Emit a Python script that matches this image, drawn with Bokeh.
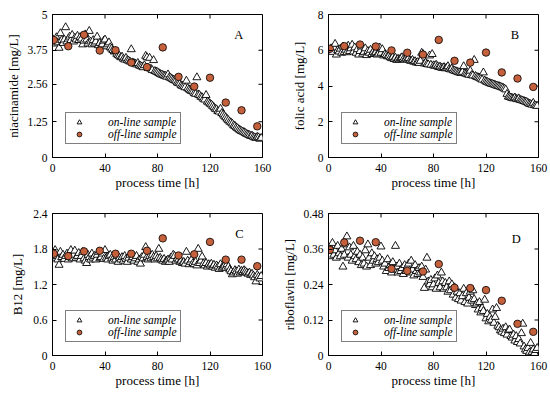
import math
from bokeh.plotting import figure
from bokeh.layouts import gridplot
from bokeh.models import FixedTicker, Label
from bokeh.embed import file_html
from bokeh.resources import INLINE

# ---------------- data ----------------
t_online = list(range(0, 160))
t_offline = [1, 12, 24, 36, 48, 60, 72, 84, 96, 108, 120, 132, 144, 156]

niacin_online = [
    4.15, 4.05, 3.98, 4.20, 4.02, 3.83, 4.34, 4.10, 4.00, 4.12,
    4.55, 4.05, 4.15, 4.22, 4.10, 4.28, 4.05, 4.18, 4.12, 4.25,
    4.10, 4.20, 4.15, 3.95, 4.08, 4.30, 4.12, 3.98, 4.42, 4.05,
    3.95, 4.10, 3.98, 4.05, 4.22, 3.92, 4.00, 3.90, 3.95, 4.08,
    4.12, 3.88, 3.95, 4.02, 3.85, 3.80, 3.75, 3.70, 3.72, 3.62,
    3.58, 3.55, 3.50, 3.52, 3.45, 3.42, 3.48, 3.40, 3.38, 3.35,
    3.78, 3.32, 3.30, 3.28, 3.25, 3.30, 3.22, 3.20, 3.18, 3.15,
    3.22, 3.55, 3.50, 3.12, 3.48, 3.10, 3.05, 3.40, 3.02, 3.00,
    2.98, 2.95, 2.92, 2.90, 2.88, 2.86, 2.85, 2.82, 2.90, 2.80,
    2.78, 2.75, 2.72, 2.70, 2.68, 2.62, 2.60, 2.58, 2.52, 2.50,
    2.48, 2.45, 2.68, 2.42, 2.38, 2.35, 2.32, 2.30, 2.25, 2.22,
    2.80, 2.20, 2.18, 2.12, 2.10, 2.05, 2.02, 2.18, 1.95, 1.92,
    1.88, 1.85, 1.80, 1.75, 1.70, 1.68, 1.62, 1.60, 1.70, 1.55,
    1.50, 1.45, 1.40, 1.35, 1.30, 1.25, 1.22, 1.18, 1.12, 1.10,
    1.05, 1.02, 0.98, 0.95, 0.92, 0.90, 0.88, 0.85, 0.82, 0.80,
    0.78, 0.75, 0.76, 0.72, 0.70, 0.68, 0.72, 0.70, 0.65, 0.68,
]
niacin_offline = [4.11, 3.89, 4.29, 3.74, 3.75, 3.32, 3.16, 3.85, 2.82, 2.48, 2.79, 1.92, 1.65, 1.09]

folic_online = [
    6.05, 5.95, 6.10, 5.90, 6.15, 6.35, 5.75, 6.00, 5.92, 6.08,
    5.85, 6.20, 5.90, 6.02, 5.88, 6.25, 5.95, 6.10, 6.30, 5.92,
    6.15, 5.85, 6.05, 5.75, 5.95, 6.20, 5.80, 5.90, 6.10, 5.72,
    5.95, 5.85, 6.02, 5.78, 5.90, 5.82, 5.88, 5.75, 5.80, 6.15,
    5.85, 6.05, 5.70, 5.78, 5.72, 5.65, 5.68, 5.60, 5.55, 5.62,
    5.50, 5.58, 5.45, 5.52, 5.48, 5.55, 5.60, 5.50, 5.46, 5.52,
    5.48, 5.55, 5.42, 5.40, 5.45, 5.35, 5.38, 5.30, 5.33, 5.28,
    5.40, 5.85, 5.78, 5.25, 5.30, 5.22, 5.20, 5.70, 5.18, 5.78,
    5.15, 5.12, 5.18, 5.10, 5.05, 5.08, 5.02, 5.00, 5.05, 4.98,
    5.02, 5.10, 4.95, 4.92, 4.98, 4.88, 4.85, 4.82, 4.80, 4.76,
    4.75, 4.72, 4.78, 5.10, 4.70, 4.68, 4.65, 4.62, 4.85, 4.60,
    4.58, 5.45, 4.55, 4.50, 4.48, 4.45, 4.40, 4.35, 4.75, 4.30,
    4.25, 4.22, 4.18, 4.15, 4.12, 4.10, 4.08, 4.05, 4.02, 4.00,
    3.98, 3.95, 3.92, 3.90, 3.85, 3.80, 3.55, 3.40, 3.38, 3.35,
    3.32, 3.30, 3.35, 3.28, 3.25, 3.30, 3.22, 3.20, 3.18, 3.15,
    3.12, 3.10, 3.05, 3.00, 2.98, 2.95, 3.05, 2.92, 2.90, 2.88,
]
folic_offline = [6.08, 6.23, 6.32, 6.21, 5.99, 5.86, 5.76, 6.58, 5.41, 5.31, 5.87, 4.76, 4.42, 3.95]

b12_online = [
    1.72, 1.65, 1.78, 1.68, 1.62, 1.53, 1.75, 1.66, 1.70, 1.63,
    1.68, 1.72, 1.62, 1.66, 1.78, 1.64, 1.70, 1.77, 1.65, 1.68,
    1.73, 1.62, 1.68, 1.75, 1.64, 1.60, 1.56, 1.70, 1.66, 1.62,
    1.72, 1.65, 1.68, 1.62, 1.70, 1.75, 1.64, 1.66, 1.72, 1.63,
    1.78, 1.65, 1.62, 1.68, 1.70, 1.64, 1.60, 1.66, 1.62, 1.68,
    1.58, 1.65, 1.62, 1.66, 1.60, 1.68, 1.63, 1.58, 1.65, 1.70,
    1.62, 1.66, 1.60, 1.64, 1.68, 1.58, 1.62, 1.55, 1.66, 1.64,
    1.70, 1.83, 1.66, 1.62, 1.68, 1.64, 1.70, 1.66, 1.62, 1.68,
    1.64, 1.80, 1.65, 1.62, 1.60, 1.63, 1.58, 1.60, 1.62, 1.58,
    1.65, 1.62, 1.70, 1.68, 1.60, 1.64, 1.62, 1.58, 1.60, 1.56,
    1.58, 1.55, 1.75, 1.60, 1.54, 1.58, 1.62, 1.56, 1.54, 1.58,
    1.52, 1.80, 1.56, 1.60, 1.67, 1.55, 1.52, 1.56, 1.50, 1.54,
    1.52, 1.55, 1.50, 1.53, 1.48, 1.52, 1.50, 1.46, 1.54, 1.48,
    1.50, 1.52, 1.48, 1.54, 1.50, 1.45, 1.42, 1.37, 1.40, 1.44,
    1.42, 1.38, 1.45, 1.40, 1.43, 1.41, 1.44, 1.42, 1.40, 1.38,
    1.40, 1.36, 1.38, 1.35, 1.32, 1.25, 1.36, 1.33, 1.30, 1.34,
]
b12_offline = [1.72, 1.68, 1.76, 1.77, 1.72, 1.72, 1.77, 1.98, 1.69, 1.71, 1.92, 1.62, 1.62, 1.51]

ribo_online = [
    0.345, 0.335, 0.360, 0.380, 0.340, 0.355, 0.330, 0.370, 0.345, 0.335,
    0.360, 0.300, 0.340, 0.375, 0.402, 0.330, 0.365, 0.340, 0.320, 0.370,
    0.335, 0.325, 0.350, 0.315, 0.340, 0.305, 0.330, 0.310, 0.355, 0.300,
    0.375, 0.330, 0.305, 0.345, 0.320, 0.335, 0.310, 0.325, 0.315, 0.330,
    0.368, 0.320, 0.300, 0.310, 0.285, 0.325, 0.295, 0.305, 0.280, 0.315,
    0.290, 0.370, 0.300, 0.280, 0.310, 0.285, 0.295, 0.275, 0.305, 0.285,
    0.300, 0.310, 0.280, 0.320, 0.290, 0.270, 0.305, 0.285, 0.275, 0.295,
    0.280, 0.300, 0.265, 0.228, 0.290, 0.330, 0.250, 0.240, 0.255, 0.230,
    0.240, 0.260, 0.225, 0.270, 0.245, 0.230, 0.280, 0.250, 0.225, 0.245,
    0.230, 0.215, 0.250, 0.220, 0.240, 0.205, 0.230, 0.195, 0.215, 0.190,
    0.210, 0.185, 0.200, 0.225, 0.180, 0.210, 0.175, 0.195, 0.215, 0.185,
    0.220, 0.190, 0.170, 0.175, 0.155, 0.180, 0.145, 0.160, 0.150, 0.188,
    0.125, 0.140, 0.115, 0.130, 0.120, 0.155, 0.110, 0.130, 0.160, 0.100,
    0.095, 0.085, 0.080, 0.090, 0.075, 0.095, 0.070, 0.085, 0.087, 0.065,
    0.060, 0.070, 0.050, 0.065, 0.045, 0.055, 0.040, 0.075, 0.107, 0.030,
    0.020, 0.015, 0.025, 0.010, 0.042, 0.012, 0.020, 0.008, 0.018, 0.025,
]
ribo_offline = [0.357, 0.382, 0.388, 0.383, 0.293, 0.286, 0.284, 0.309, 0.229, 0.228, 0.221, 0.185, 0.107, 0.080]

x_ticks = [0, 40, 80, 120, 160]
y_ticks_A = [0, 1.25, 2.56, 3.75, 5]
y_ticks_B = [0, 2, 4, 6, 8]
y_ticks_C = [0, 0.6, 1.2, 1.8, 2.4]
y_ticks_D = [0, 0.12, 0.24, 0.36, 0.48]

FONT = "Liberation Serif"
OFF_COLOR = "#C4603C"


def make_panel(online, offline, yticks, ylabel, letter, letter_pos,
               width, height, top, left, right, bottom, ylab_standoff):
    xmax = x_ticks[-1]
    ymax = yticks[-1]
    p = figure(width=width, height=height, x_range=(x_ticks[0], xmax), y_range=(yticks[0], ymax),
               min_border_left=left, min_border_right=right, min_border_top=top,
               min_border_bottom=bottom, output_backend="svg", toolbar_location=None,
               background_fill_color="white", border_fill_color="white")
    p.grid.visible = False
    p.outline_line_color = "black"
    p.outline_line_width = 1
    p.outline_line_alpha = 1

    labels = {v: ("%g" % v) for v in yticks}
    for ax, ticks in ((p.xaxis[0], x_ticks), (p.yaxis[0], yticks)):
        ax.ticker = FixedTicker(ticks=ticks)
        ax.minor_tick_line_color = None
        ax.major_tick_in = 4
        ax.major_tick_out = 0
        ax.axis_line_color = "black"
        ax.major_tick_line_color = "black"
        ax.major_label_text_font = FONT
        ax.major_label_text_font_size = "11.5px"
        ax.major_label_text_color = "black"
        ax.axis_label_text_font = FONT
        ax.axis_label_text_font_size = "13px"
        ax.axis_label_text_font_style = "normal"
        ax.axis_label_text_color = "black"
    p.yaxis[0].major_label_overrides = labels
    p.xaxis[0].axis_label = "process time [h]"
    p.xaxis[0].major_label_standoff = 6
    p.xaxis[0].axis_label_standoff = 0
    p.yaxis[0].axis_label = ylabel
    p.yaxis[0].major_label_standoff = 5
    p.yaxis[0].axis_label_standoff = ylab_standoff

    # box ticks on right and top edges (inward)
    p.ray(x=[xmax] * len(yticks), y=yticks, length=4, angle=math.pi,
          length_units="screen", line_color="black", line_width=1)
    p.ray(x=x_ticks, y=[ymax] * len(x_ticks), length=4, angle=-math.pi / 2,
          length_units="screen", line_color="black", line_width=1)

    p.scatter(t_online, online, marker="triangle", size=8, fill_color="white",
              line_color="black", line_width=0.9, legend_label="on-line sample")
    p.scatter(t_offline, offline, marker="circle", size=7.5, fill_color=OFF_COLOR,
              line_color="black", line_width=0.8, legend_label="off-line sample")

    lg = p.legend[0]
    lg.location = (13, 13)
    lg.border_line_color = "black"
    lg.border_line_width = 1
    lg.background_fill_color = "white"
    lg.background_fill_alpha = 1
    lg.label_text_font = FONT
    lg.label_text_font_style = "italic"
    lg.label_text_font_size = "11.5px"
    lg.label_text_color = "black"
    lg.padding = 3
    lg.spacing = 0
    lg.margin = 0
    lg.glyph_width = 20
    lg.glyph_height = 12
    lg.label_height = 12
    lg.label_standoff = 19

    p.add_layout(Label(x=letter_pos[0], y=letter_pos[1], text=letter, text_font=FONT,
                       text_font_size="12.5px", text_align="center", text_baseline="middle",
                       text_color="black"))
    return p


pA = make_panel(niacin_online, niacin_offline, y_ticks_A, "niacinamide [mg/L]", "A", (142, 4.3),
                275, 196, 14, 52, 13, 39, 3)
pB = make_panel(folic_online, folic_offline, y_ticks_B, "folic acid [mg/L]", "B", (142, 6.88),
                274, 196, 14, 53, 11, 39, 8)
pC = make_panel(b12_online, b12_offline, y_ticks_C, "B12 [mg/L]", "C", (142.5, 2.05),
                275, 196, 17, 52, 13, 37, 5)
pD = make_panel(ribo_online, ribo_offline, y_ticks_D, "riboflavin [mg/L]", "D", (143, 0.393),
                274, 196, 17, 53, 11, 37, 3)

grid = gridplot([[pA, pB], [pC, pD]], toolbar_location=None)

open("out.html", "w").write(file_html(grid, INLINE))
